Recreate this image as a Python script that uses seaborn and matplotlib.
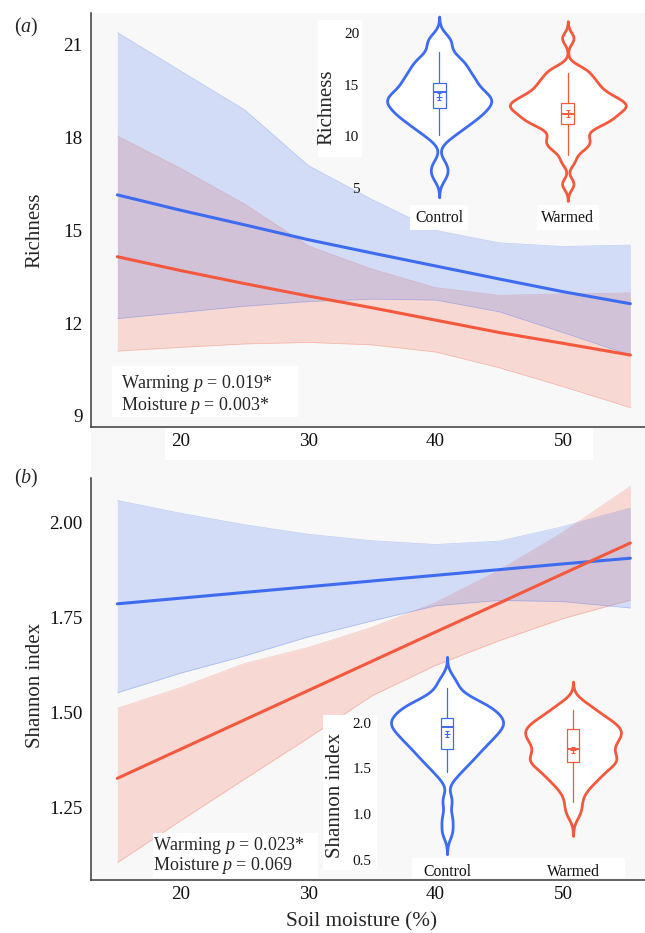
import numpy as np
import pandas as pd
import matplotlib
matplotlib.use("Agg")
import matplotlib.pyplot as plt
import seaborn as sns
from matplotlib.patches import Rectangle

sns.set_theme(style="white")
plt.rcParams["font.family"] = ["Liberation Serif", "DejaVu Serif"]
plt.rcParams["mathtext.fontset"] = "custom"
plt.rcParams["mathtext.rm"] = "Liberation Serif"
plt.rcParams["mathtext.it"] = "Liberation Serif:italic"

# ---------------- data ----------------
moisture = [15, 20, 25, 30, 35, 40, 45, 50, 55.3]

rich_ctrl_fit = [16.15, 15.65, 15.18, 14.70, 14.27, 13.85, 13.43, 13.02, 12.63]
rich_ctrl_lo = [12.15, 12.35, 12.55, 12.70, 12.78, 12.75, 12.37, 11.70, 10.97]
rich_ctrl_hi = [21.40, 20.15, 18.90, 17.10, 16.00, 15.00, 14.60, 14.48, 14.53]
rich_warm_fit = [14.15, 13.70, 13.28, 12.88, 12.50, 12.10, 11.70, 11.35, 10.97]
rich_warm_lo = [11.10, 11.22, 11.33, 11.38, 11.30, 11.07, 10.56, 9.95, 9.27]
rich_warm_hi = [18.05, 17.00, 15.85, 14.50, 13.75, 13.15, 12.90, 12.95, 12.98]

shan_ctrl_fit = [1.787, 1.802, 1.817, 1.832, 1.847, 1.862, 1.877, 1.892, 1.907]
shan_ctrl_lo = [1.553, 1.605, 1.650, 1.700, 1.742, 1.782, 1.796, 1.793, 1.776]
shan_ctrl_hi = [2.059, 2.025, 1.995, 1.970, 1.953, 1.943, 1.952, 1.990, 2.039]
shan_warm_fit = [1.328, 1.405, 1.482, 1.559, 1.636, 1.713, 1.789, 1.866, 1.947]
shan_warm_lo = [1.106, 1.217, 1.326, 1.434, 1.545, 1.625, 1.690, 1.748, 1.797]
shan_warm_hi = [1.512, 1.567, 1.630, 1.672, 1.725, 1.790, 1.875, 1.975, 2.096]

# inset observations (per plot)
rich_ctrl_obs = [6.2, 7.2, 9.9, 10.5, 11.0, 11.1, 11.5, 11.9, 12.0, 12.1, 12.4, 12.6,
                 12.9, 13.0, 13.1, 13.4, 13.5, 13.6, 13.9, 14.0, 14.1, 14.4, 14.6,
                 14.9, 15.1, 15.4, 15.6, 15.9, 16.1, 16.5, 16.9, 17.1, 17.5, 18.0,
                 19.0, 19.5]
rich_warm_obs = [5.4, 7.6, 8.6, 9.0, 9.4, 9.6, 10.0, 10.5, 10.9, 11.1, 11.4, 11.5,
                 11.6, 11.9, 12.0, 12.1, 12.4, 12.5, 12.6, 12.8, 12.9, 13.0, 13.1,
                 13.2, 13.4, 13.5, 13.6, 13.9, 14.0, 14.1, 14.4, 14.6, 14.9, 15.1,
                 15.4, 15.6, 16.0, 16.4, 16.6, 19.5]
shan_ctrl_obs = [0.80, 0.95, 1.15, 1.40, 1.49, 1.51, 1.59, 1.60, 1.61, 1.68, 1.69,
                 1.71, 1.72, 1.78, 1.79, 1.80, 1.81, 1.82, 1.88, 1.89, 1.90, 1.90,
                 1.91, 1.92, 1.98, 1.99, 2.00, 2.00, 2.00, 2.01, 2.02, 2.08, 2.09,
                 2.10, 2.10, 2.11, 2.12, 2.18, 2.19, 2.20, 2.21, 2.22, 2.29, 2.31,
                 2.40, 2.48]
shan_warm_obs = [1.00, 1.10, 1.20, 1.29, 1.31, 1.39, 1.40, 1.41, 1.48, 1.49, 1.51,
                 1.52, 1.58, 1.59, 1.60, 1.60, 1.61, 1.62, 1.69, 1.70, 1.71, 1.72,
                 1.78, 1.79, 1.80, 1.81, 1.82, 1.88, 1.89, 1.90, 1.90, 1.91, 1.92,
                 1.98, 1.99, 2.00, 2.01, 2.02, 2.09, 2.10, 2.11, 2.19, 2.21]

groups = ["Control", "Warmed"]
# box statistics
rich_box = {"Control": dict(med=14.3, q1=12.7, q3=15.2, whislo=10.1, whishi=18.2),
            "Warmed": dict(med=12.16, q1=11.16, q3=13.19, whislo=8.2, whishi=16.16)}
rich_mean = {"Control": (13.84, 0.32), "Warmed": (12.2, 0.32)}
shan_box = {"Control": dict(med=1.953, q1=1.71, q3=2.055, whislo=1.46, whishi=2.38),
            "Warmed": dict(med=1.71, q1=1.565, q3=1.93, whislo=1.13, whishi=2.14)}
shan_mean = {"Control": (1.877, 0.03), "Warmed": (1.70, 0.035)}

BLUE = "#3E6CF0"
RED = "#F4593D"
GRAY = "#F8F8F8"
pal = {"Control": BLUE, "Warmed": RED}

W, H = 645, 933
fig = plt.figure(figsize=(W / 100, H / 100), dpi=100)


def fx(px):
    return px / W


def fy(py):
    return 1 - py / H


def axes_px(l, t, r, b):
    return fig.add_axes([l / W, 1 - b / H, (r - l) / W, (b - t) / H])


def fig_rect(l, t, r, b, color, z):
    fig.add_artist(Rectangle((fx(l), fy(b)), (r - l) / W, (b - t) / H,
                             transform=fig.transFigure, facecolor=color,
                             edgecolor="none", zorder=z))


# gray background region and white boxes
fig_rect(91, 13, 645, 880, GRAY, -2)
fig_rect(165, 428, 593, 460, "white", -1)


def main_panel(ax, fit_c, lo_c, hi_c, fit_w, lo_w, hi_w, ylim, yticks, fmt):
    ax.set_facecolor("none")
    for lo, hi, c in ((lo_w, hi_w, RED), (lo_c, hi_c, BLUE)):
        ax.fill_between(moisture, lo, hi, color=c, alpha=0.2, lw=0, zorder=1)
        ax.plot(moisture, lo, color=c, lw=0.5, alpha=0.3, zorder=1)
        ax.plot(moisture, hi, color=c, lw=0.5, alpha=0.3, zorder=1)
    df = pd.DataFrame({"moisture": moisture * 2,
                       "value": list(fit_c) + list(fit_w),
                       "treatment": ["Control"] * len(moisture) + ["Warmed"] * len(moisture)})
    sns.lineplot(data=df, x="moisture", y="value", hue="treatment",
                 hue_order=groups, palette=pal, lw=2.2, legend=False, ax=ax, zorder=3)
    ax.set_xlim(12.93, 56.45)
    ax.set_ylim(*ylim)
    ax.set_xticks([20, 30, 40, 50])
    ax.set_yticks(yticks)
    ax.set_yticklabels([fmt.format(v) for v in yticks])
    ax.set_xlabel("")
    ax.set_ylabel("")
    sns.despine(ax=ax)
    for s in ("left", "bottom"):
        ax.spines[s].set_color("#3a3a3a")
        ax.spines[s].set_linewidth(1.1)
    ax.tick_params(axis="y", length=0, labelsize=13.8, pad=6, labelcolor="#111111")
    ax.tick_params(axis="x", length=0, labelsize=13.8, pad=4, labelcolor="#111111")
    ax.grid(False)


ax_a = axes_px(91, 13, 645, 427)
main_panel(ax_a, rich_ctrl_fit, rich_ctrl_lo, rich_ctrl_hi,
           rich_warm_fit, rich_warm_lo, rich_warm_hi,
           (8.644, 22.03), [9, 12, 15, 18, 21], "{:.0f}")
ax_b = axes_px(91, 478, 645, 880)
main_panel(ax_b, shan_ctrl_fit, shan_ctrl_lo, shan_ctrl_hi,
           shan_warm_fit, shan_warm_lo, shan_warm_hi,
           (1.0605, 2.118), [1.25, 1.50, 1.75, 2.00], "{:.2f}")

# white label boxes above main panels, below insets
fig_rect(112, 366, 298, 417, "white", 0.5)
fig_rect(153, 833, 318, 878, "white", 0.5)
fig_rect(318, 20, 362, 157, "white", 0.5)
fig_rect(323, 715, 377, 870, "white", 0.5)
fig_rect(412, 858, 625, 878, "white", 0.5)


def inset(ax, obs, bws, widths, boxes, means, ylim, xlim, yticks, fmt, pad_y):
    ax.set_zorder(2)
    ax.patch.set_alpha(0)
    for g in groups:
        d = pd.DataFrame({"group": [g] * len(obs[g]), "val": obs[g]})
        sns.violinplot(data=d, x="group", y="val", order=groups, ax=ax,
                       color="white", linecolor=pal[g], linewidth=2.0,
                       inner=None, cut=3, bw_method=bws[g],
                       density_norm="width", width=widths[g], saturation=1)
    for i, g in enumerate(groups):
        st = dict(boxes[g])
        st["fliers"] = []
        ax.bxp([st], positions=[i], widths=0.1, showcaps=False, showfliers=False,
               patch_artist=True, zorder=3,
               boxprops=dict(facecolor="white", edgecolor=pal[g], linewidth=0.9),
               medianprops=dict(color=pal[g], linewidth=1.4),
               whiskerprops=dict(color=pal[g], linewidth=0.9))
        m, se = means[g]
        ax.errorbar([i], [m], yerr=[se], fmt="+", ms=4, mew=0.8, color=pal[g],
                    elinewidth=0.8, capsize=1.5, capthick=0.8, zorder=4)
    ax.set_xlim(*xlim)
    ax.set_ylim(*ylim)
    ax.set_xticks([0, 1])
    ax.set_xticklabels(groups)
    ax.set_yticks(yticks)
    ax.set_yticklabels([fmt.format(v) for v in yticks])
    ax.set_xlabel("")
    ax.set_ylabel("")
    for s in ax.spines.values():
        s.set_visible(False)
    ax.tick_params(axis="y", length=0, labelsize=11, pad=pad_y, labelcolor="#111111")
    ax.tick_params(axis="x", length=0, labelsize=11.3, pad=2, labelcolor="#111111")
    ax.grid(False)


in_a = axes_px(362, 13, 645, 207)
inset(in_a, {"Control": rich_ctrl_obs, "Warmed": rich_warm_obs},
      {"Control": 0.238, "Warmed": 0.205}, {"Control": 0.81, "Warmed": 0.90},
      rich_box, rich_mean, (3.16, 21.94), (-0.6, 1.6), [5, 10, 15, 20], "{:.0f}", 2)
for lab in in_a.get_xticklabels():
    lab.set_bbox(dict(facecolor="white", edgecolor="none", boxstyle="square,pad=0.3"))

in_b = axes_px(377, 648, 645, 861)
inset(in_b, {"Control": shan_ctrl_obs, "Warmed": shan_warm_obs},
      {"Control": 0.232, "Warmed": 0.272}, {"Control": 0.89, "Warmed": 0.76},
      shan_box, shan_mean, (0.485, 2.818), (-0.556, 1.571), [0.5, 1.0, 1.5, 2.0], "{:.1f}", 4)

# texts
fig.text(fx(26), fy(27), r"($a$)", ha="center", va="center", fontsize=14.5)
fig.text(fx(26), fy(478), r"($b$)", ha="center", va="center", fontsize=14.5)
fig.text(fx(35), fy(230), "Richness", rotation=90, ha="center", va="center", fontsize=15)
fig.text(fx(35), fy(685), "Shannon index", rotation=90, ha="center", va="center", fontsize=15)
fig.text(fx(362), fy(922), "Soil moisture (%)", ha="center", va="center", fontsize=15.3)
fig.text(fx(327), fy(107), "Richness", rotation=90, ha="center", va="center", fontsize=15, zorder=5)
fig.text(fx(335), fy(795), "Shannon index", rotation=90, ha="center", va="center", fontsize=15, zorder=5)

fig.text(fx(121), fy(383), r"Warming $p$ = 0.019*", ha="left", va="center", fontsize=13)
fig.text(fx(121), fy(405), r"Moisture $p$ = 0.003*", ha="left", va="center", fontsize=13)
fig.text(fx(153), fy(845), r"Warming $p$ = 0.023*", ha="left", va="center", fontsize=13)
fig.text(fx(153), fy(866), r"Moisture $p$ = 0.069", ha="left", va="center", fontsize=13)

fig.savefig("out.png", dpi=100)
